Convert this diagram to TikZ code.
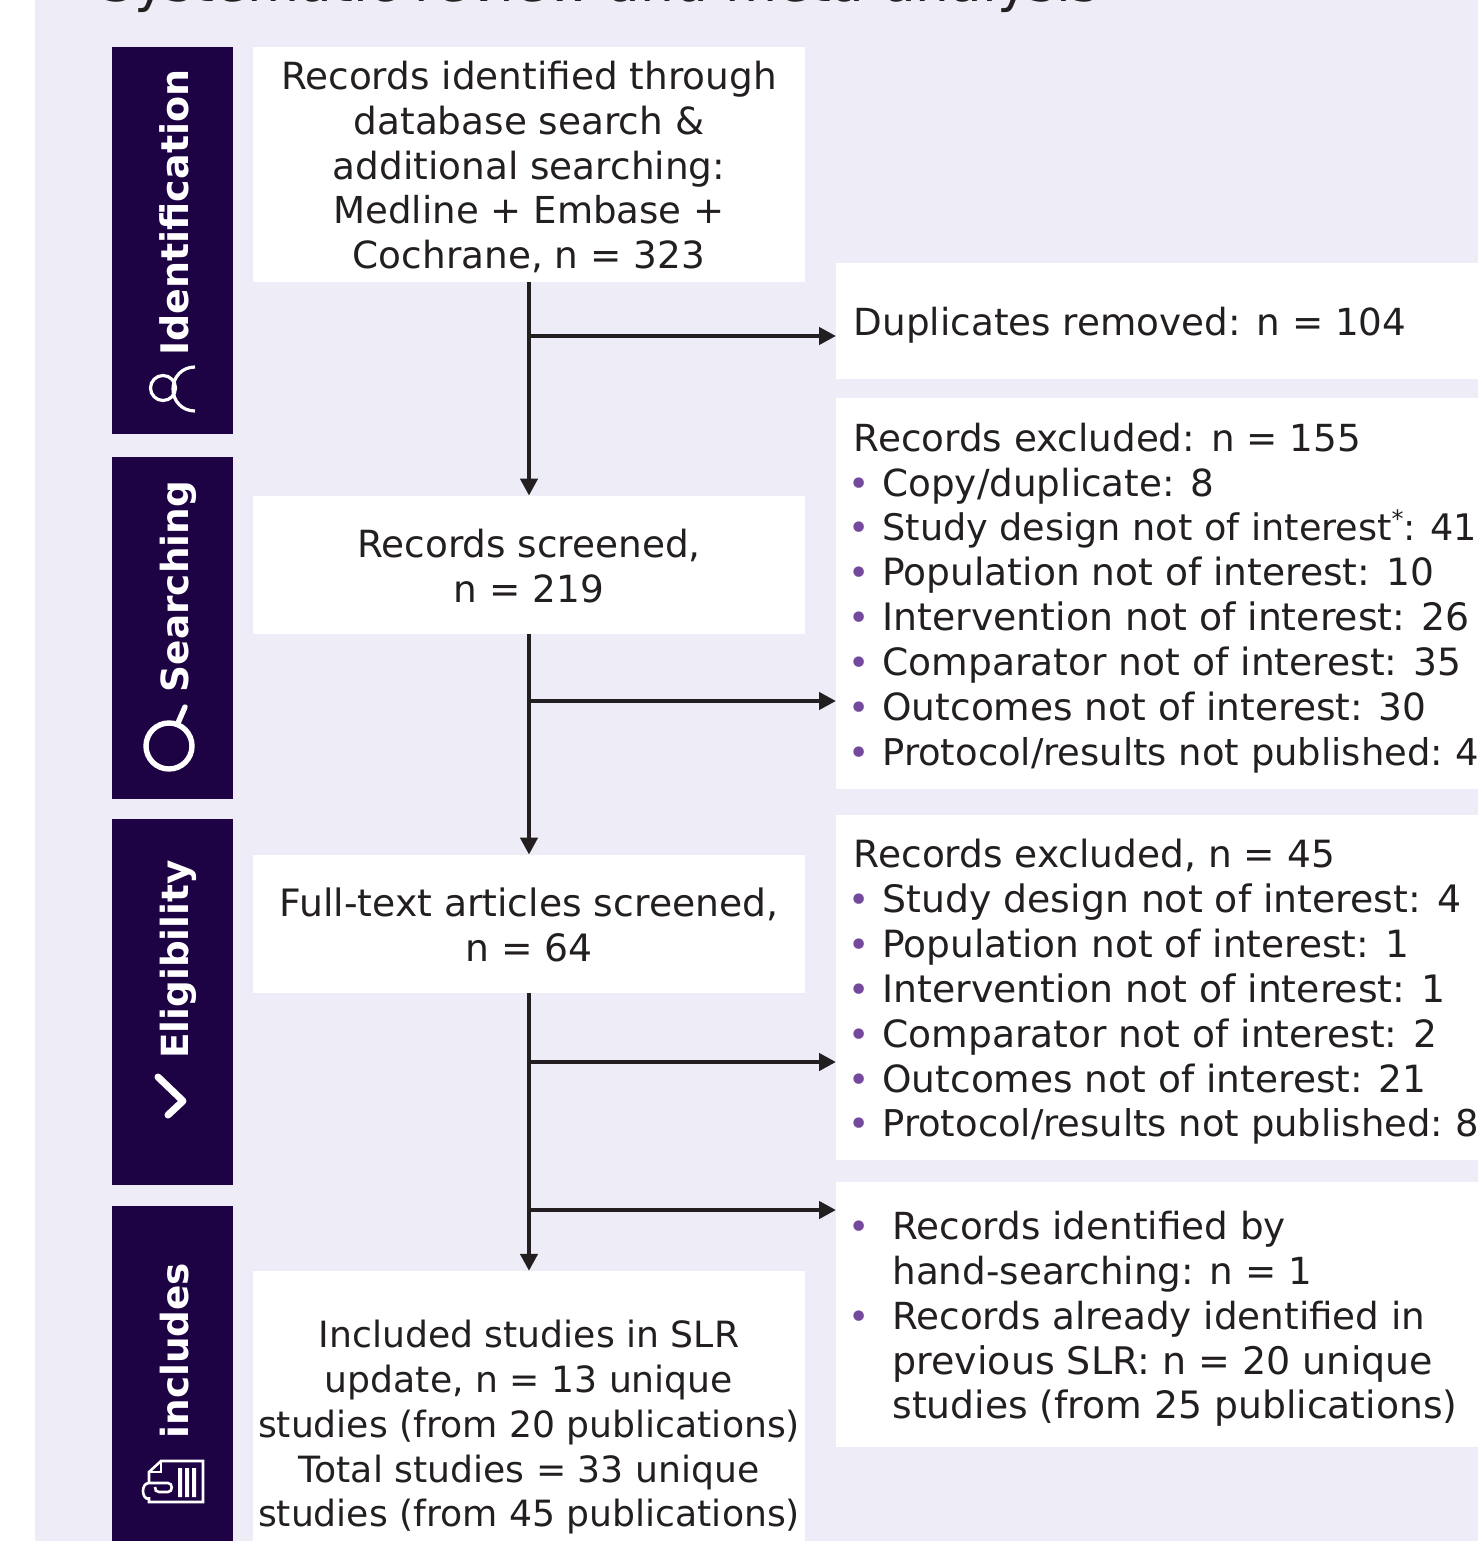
\documentclass[tikz,border=0pt]{standalone}
\usepackage{fontspec}
\setmainfont{DejaVu Sans}
\usetikzlibrary{arrows.meta}
\definecolor{bgc}{HTML}{EEEDF7}
\definecolor{barc}{HTML}{1E0344}
\definecolor{txt}{HTML}{231F20}
\definecolor{pur}{HTML}{74489D}
\newcommand{\dotmark}{\hspace*{-2.5pt}\textcolor{pur}{\fontsize{18pt}{20pt}\selectfont •}}
\newcommand{\bul}{\makebox[14.25pt][l]{\dotmark}}
\newcommand{\bulb}{\makebox[19.25pt][l]{\dotmark}}
\newcommand{\fz}[2]{{\fontsize{#1pt}{22.42pt}\selectfont #2}}
\tikzset{
 box/.style={fill=white,inner sep=0pt,minimum width=276pt},
 boxtext/.style={text=txt,font=\fontsize{18.7pt}{22.45pt}\selectfont,inner sep=0pt,align=center},
 rbox/.style={fill=white,anchor=north west,inner sep=0pt,minimum width=400pt},
 rtext/.style={text=txt,font=\fontsize{18.65pt}{22.42pt}\selectfont,anchor=west,inner sep=0pt,align=left},
 bar/.style={fill=barc,inner sep=0pt,minimum width=60.5pt,anchor=north west},
 lab/.style={text=white,font=\fontsize{18.7pt}{20pt}\selectfont\bfseries,rotate=90,inner sep=0pt,anchor=base},
 flow/.style={draw=txt,line width=2.2pt,-{Triangle[length=8.5pt,width=8.5pt]}},
 ico/.style={draw=white,line width=1.6pt}
}
\begin{document}
\begin{tikzpicture}[x=0.5pt,y=-0.5pt]
\useasboundingbox (0,0) rectangle (1478,1541);
\clip (0,0) rectangle (1478,1541);
\fill[bgc] (35,0) rectangle (1478,1541);
\node[anchor=base west,text=txt,font=\fontsize{26.7pt}{30pt}\selectfont,inner sep=0pt] (title) at (100,2) {Systematic review and meta-analysis};
% bars
\node[bar,minimum height=193.5pt] (b1) at (112,47) {};
\node[bar,minimum height=171pt] (b2) at (112,457) {};
\node[bar,minimum height=183pt] (b3) at (112,819) {};
\node[bar,minimum height=200pt] (b4) at (112,1206) {};
\node[lab,font=\fontsize{19pt}{20pt}\selectfont\bfseries] (l1) at (188,212.5) {Identification};
\node[lab] (l2) at (188,586.5) {Searching};
\node[lab] (l3) at (188,959.5) {Eligibility};
\node[lab] (l4) at (188,1350.5) {includes};
% icons
\draw[ico] (163,388) circle (12.5);
\draw[ico] (195,367) .. controls (182,367) and (173,377) .. (173,389) .. controls (173,401) and (182,411) .. (195,411);
\draw[ico,line width=2.7pt] (169,746) circle (23);
\draw[ico,line width=2.7pt,line cap=round] (178,723) -- (185,707);
\draw[white,line width=3.5pt,line cap=round,line join=round] (158,1077) -- (183,1101) -- (168,1115);
\draw[ico,line width=1.3pt] (149,1483) -- (149,1472) -- (161,1461) -- (203,1461) -- (203,1502) -- (149,1502) -- (149,1497);
\draw[ico,line width=1.3pt] (161,1461) -- (161,1472) -- (149,1472);
\fill[white] (178,1468) rectangle (182,1497) (185,1468) rectangle (189,1497) (192,1468) rectangle (196,1497);
\draw[ico,line width=1.3pt] (149,1499) .. controls (141,1499) and (141,1483) .. (149,1483) -- (168,1483) .. controls (173,1483) and (173,1492) .. (168,1492) -- (159,1492) .. controls (156,1492) and (155,1490) .. (155,1487);
% left boxes
\node[box,minimum height=117.5pt] (a) at (529,164.5) {};
\node[boxtext] (at) at ([yshift=-1.25pt]a.center) {Records identified through\\database search \&\\additional searching:\\\fz{18.55}{Medline + Embase +}\\Cochrane, n = 323};
\node[box,minimum height=69pt] (c) at (529,565) {};
\node[boxtext] (ct) at ([yshift=-0.75pt]c.center) {Records screened,\\n = 219};
\node[box,minimum height=69pt] (e) at (529,924) {};
\node[boxtext,font=\fontsize{18.85pt}{22.45pt}\selectfont] (et) at ([yshift=-0.25pt]e.center) {Full-text articles screened,\\n = 64};
\node[box,minimum height=155.5pt] (g) at (529,1426.75) {};
\node[boxtext,font=\fontsize{18.08pt}{22.4pt}\selectfont] (gt) at ([yshift=-0.25pt]g.center) {Included studies in SLR\\update, n = 13 unique\\studies (from 20 publications)\\Total studies = 33 unique\\studies (from 45 publications)};
% right boxes
\node[rbox,minimum height=58pt] (d1) at (836,263) {};
\node[rtext] (d1t) at ([xshift=8.75pt,yshift=-1.75pt]d1.west) {Duplicates removed: n = 104};
\node[rbox,minimum height=195.5pt] (d2) at (836,398) {};
\node[rtext] (d2t) at ([xshift=8.75pt,yshift=-2pt]d2.west) {Records excluded: n = 155\\
\bul Copy/duplicate: 8\\
\bul \fz{18.3}{Study design not of interest\raisebox{6.5pt}{\fontsize{12pt}{12pt}\selectfont *}:\hspace{-0.5pt} 41}\\
\bul \fz{18.79}{Population not of interest: 10}\\
\bul \fz{18.9}{Intervention not of interest: 26}\\
\bul \fz{18.8}{Comparator not of interest: 35}\\
\bul \fz{18.75}{Outcomes not of interest: 30}\\
\bul \fz{18.45}{Protocol/results not published:\hspace{-1.5pt} 4}};
\node[rbox,minimum height=172.5pt] (d3) at (836,815) {};
\node[rtext] (d3t) at ([xshift=8.75pt,yshift=-2pt]d3.west) {\fz{18.75}{Records excluded, n = 45}\\
\bul \fz{18.9}{Study design not of interest: 4}\\
\bul \fz{18.75}{Population not of interest: 1}\\
\bul \fz{18.9}{Intervention not of interest: 1}\\
\bul \fz{18.8}{Comparator not of interest: 2}\\
\bul \fz{18.75}{Outcomes not of interest: 21}\\
\bul \fz{18.45}{Protocol/results not published:\hspace{-1.5pt} 8}};
\node[rbox,minimum height=132.5pt] (d4) at (836,1182) {};
\node[rtext] (d4t) at ([xshift=8.75pt,yshift=-2pt]d4.west) {\bulb Records identified by\\
\hspace*{19.25pt}hand-searching: n = 1\\
\bulb Records already identified in\\
\hspace*{19.25pt}\fz{19}{previous SLR: n = 20 unique}\\
\hspace*{19.25pt}\fz{18.85}{studies (from 25 publications)}};
% connectors
\coordinate (j1) at (a.south |- 0,336);
\coordinate (j2) at (a.south |- 0,701);
\coordinate (j3) at (a.south |- 0,1062);
\coordinate (j4) at (a.south |- 0,1210);
\draw[flow] (a.south) -- (c.north);
\draw[flow] (c.south) -- (e.north);
\draw[flow] (e.south) -- (g.north);
\draw[flow] (j1) -- (d1.west |- j1);
\draw[flow] (j2) -- (d2.west |- j2);
\draw[flow] (j3) -- (d3.west |- j3);
\draw[flow] (j4) -- (d4.west |- j4);
\end{tikzpicture}
\end{document}
